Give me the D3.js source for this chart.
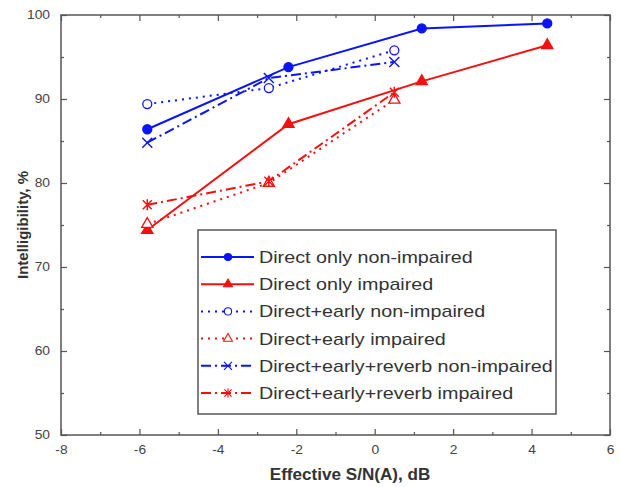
<!DOCTYPE html>
<html lang="en">
<head>
<meta charset="utf-8">
<script src="https://d3js.org/d3.v7.min.js"></script>
<style>
  body { margin: 0; background: #fff; }
  text { font-family: "Liberation Sans", Arial, sans-serif; }
</style>
</head>
<body>
<script>
// data
var seriesNames = ["Direct only non-impaired", "Direct only impaired",
                   "Direct+early non-impaired", "Direct+early impaired",
                   "Direct+early+reverb non-impaired", "Direct+early+reverb impaired"];
var directX = [-5.8, -2.2, 1.2, 4.4];
var earlyX = [-5.8, -2.7, 0.5];
var directNonImp = [86.4, 93.8, 98.4, 99.0];
var directImp = [74.4, 87.0, 92.1, 96.4];
var earlyNonImp = [89.4, 91.3, 95.8];
var earlyImp = [75.1, 80.0, 89.9];
var reverbNonImp = [84.8, 92.5, 94.4];
var reverbImp = [77.4, 80.2, 90.8];
var xTicks = [-8, -6, -4, -2, 0, 2, 4, 6];
var yTicks = [50, 60, 70, 80, 90, 100];

var w = 620, h = 487;
var margin = {top: 15, right: 10, bottom: 52, left: 61};
var innerW = w - margin.left - margin.right;
var innerH = h - margin.top - margin.bottom;

var blue = "#0a14f5", red = "#f51010";

var series = [
  {name: seriesNames[0], xs: directX, ys: directNonImp, color: blue, dash: null, marker: "circleFill"},
  {name: seriesNames[1], xs: directX, ys: directImp, color: red, dash: null, marker: "triFill"},
  {name: seriesNames[2], xs: earlyX, ys: earlyNonImp, color: blue, dash: "2,5", marker: "circleOpen"},
  {name: seriesNames[3], xs: earlyX, ys: earlyImp, color: red, dash: "2,5", marker: "triOpen"},
  {name: seriesNames[4], xs: earlyX, ys: reverbNonImp, color: blue, dash: "10,4,2,4", marker: "cross"},
  {name: seriesNames[5], xs: earlyX, ys: reverbImp, color: red, dash: "10,4,2,4", marker: "star"}
];

var svg = d3.select("body").append("svg")
    .attr("width", w)
    .attr("height", h);

var g = svg.append("g")
    .attr("transform", `translate(${margin.left},${margin.top})`);

var xScale = d3.scaleLinear().domain([-8, 6]).range([0, innerW]);
var yScale = d3.scaleLinear().domain([50, 100]).range([innerH, 0]);

var axisColor = "#555";
var minorX = d3.range(-7, 6, 2);
var minorY = d3.range(55, 100, 10);
var hyphenFmt = function(d) { return String(d); };

function styleAxis(sel) {
  sel.select(".domain").remove();
  sel.selectAll(".tick line").attr("stroke", axisColor).attr("stroke-width", 1.2);
  sel.selectAll(".tick text").attr("fill", "#444").style("font-size", "12px");
}

// bottom
var xAx = g.append("g").attr("transform", `translate(0,${innerH})`)
  .call(d3.axisBottom(xScale).tickValues(xTicks).tickSizeInner(-6).tickSizeOuter(0).tickPadding(10).tickFormat(hyphenFmt))
  .call(styleAxis);
xAx.selectAll(".tick text").attr("transform", "scale(1.15,1)")
  .attr("x", 0);
g.append("g").attr("transform", `translate(0,${innerH})`)
  .call(d3.axisBottom(xScale).tickValues(minorX).tickSize(-3).tickFormat(""))
  .call(styleAxis);
// top
g.append("g")
  .call(d3.axisTop(xScale).tickValues(xTicks).tickSize(-6).tickFormat(""))
  .call(styleAxis);
g.append("g")
  .call(d3.axisTop(xScale).tickValues(minorX).tickSize(-3).tickFormat(""))
  .call(styleAxis);
// left
var yAx = g.append("g")
  .call(d3.axisLeft(yScale).tickValues(yTicks).tickSizeInner(-6).tickSizeOuter(0).tickPadding(11).tickFormat(hyphenFmt))
  .call(styleAxis);
yAx.selectAll(".tick text").attr("transform", "translate(-11,0) scale(1.15,1)").attr("x", 0);
g.append("g")
  .call(d3.axisLeft(yScale).tickValues(minorY).tickSize(-3).tickFormat(""))
  .call(styleAxis);
// right
g.append("g").attr("transform", `translate(${innerW},0)`)
  .call(d3.axisRight(yScale).tickValues(yTicks).tickSize(-6).tickFormat(""))
  .call(styleAxis);
g.append("g").attr("transform", `translate(${innerW},0)`)
  .call(d3.axisRight(yScale).tickValues(minorY).tickSize(-3).tickFormat(""))
  .call(styleAxis);

g.append("rect")
  .attr("width", innerW).attr("height", innerH)
  .attr("fill", "none").attr("stroke", axisColor).attr("stroke-width", 1.5);

// titles
svg.append("text")
  .attr("transform", `translate(350,480) scale(1.07,1)`)
  .attr("text-anchor", "middle")
  .style("font-size", "16px").style("font-weight", "bold").attr("fill", "#333")
  .text("Effective S/N(A), dB");
svg.append("text")
  .attr("transform", `translate(28,${margin.top + innerH / 2}) rotate(-90)`)
  .attr("text-anchor", "middle")
  .style("font-size", "15px").style("font-weight", "bold").attr("fill", "#333")
  .text("Intelligibility, %");

function drawMarker(sel, type, color) {
  var r = 4.5;
  if (type === "circleFill" || type === "circleOpen") {
    sel.append("circle").attr("r", r)
      .attr("fill", type === "circleFill" ? color : "#fff")
      .attr("stroke", color).attr("stroke-width", 1.3);
  } else if (type === "triFill" || type === "triOpen") {
    sel.append("path")
      .attr("d", d3.symbol().type(d3.symbolTriangle).size(55)())
      .attr("fill", type === "triFill" ? color : "#fff")
      .attr("stroke", color).attr("stroke-width", 1.3);
  } else if (type === "cross") {
    sel.append("path")
      .attr("d", "M-5,-5L5,5M-5,5L5,-5")
      .attr("stroke", color).attr("stroke-width", 1.4).attr("fill", "none");
  } else if (type === "star") {
    sel.append("path")
      .attr("d", "M-4.5,-4.5L4.5,4.5M-4.5,4.5L4.5,-4.5M0,-5.5L0,5.5")
      .attr("stroke", color).attr("stroke-width", 1.4).attr("fill", "none");
  }
}

var line = d3.line()
  .x(function(d) { return xScale(d[0]); })
  .y(function(d) { return yScale(d[1]); });

series.forEach(function(s) {
  var pts = s.xs.map(function(x, i) { return [x, s.ys[i]]; });
  g.append("path")
    .datum(pts)
    .attr("d", line)
    .attr("fill", "none")
    .attr("stroke", s.color)
    .attr("stroke-width", 2)
    .attr("stroke-dasharray", s.dash);
});
series.forEach(function(s) {
  s.xs.forEach(function(x, i) {
    var m = g.append("g").attr("transform", `translate(${xScale(x)},${yScale(s.ys[i])})`);
    drawMarker(m, s.marker, s.color);
  });
});

// legend
var lg = svg.append("g").attr("transform", "translate(198,230)");
lg.append("rect")
  .attr("width", 358).attr("height", 184)
  .attr("fill", "#fff").attr("stroke", axisColor).attr("stroke-width", 1.5);
series.forEach(function(s, i) {
  var y = 27 + i * 27.2;
  lg.append("line")
    .attr("x1", 3).attr("x2", 56).attr("y1", y).attr("y2", y)
    .attr("stroke", s.color).attr("stroke-width", 2)
    .attr("stroke-dasharray", s.dash);
  var m = lg.append("g").attr("transform", `translate(30,${y}) scale(0.8)`);
  drawMarker(m, s.marker, s.color);
  lg.append("text")
    .attr("transform", `translate(61,${y + 6}) scale(1.16,1)`)
    .style("font-size", "17px").attr("fill", "#333")
    .text(s.name);
});
</script>
</body>
</html>
